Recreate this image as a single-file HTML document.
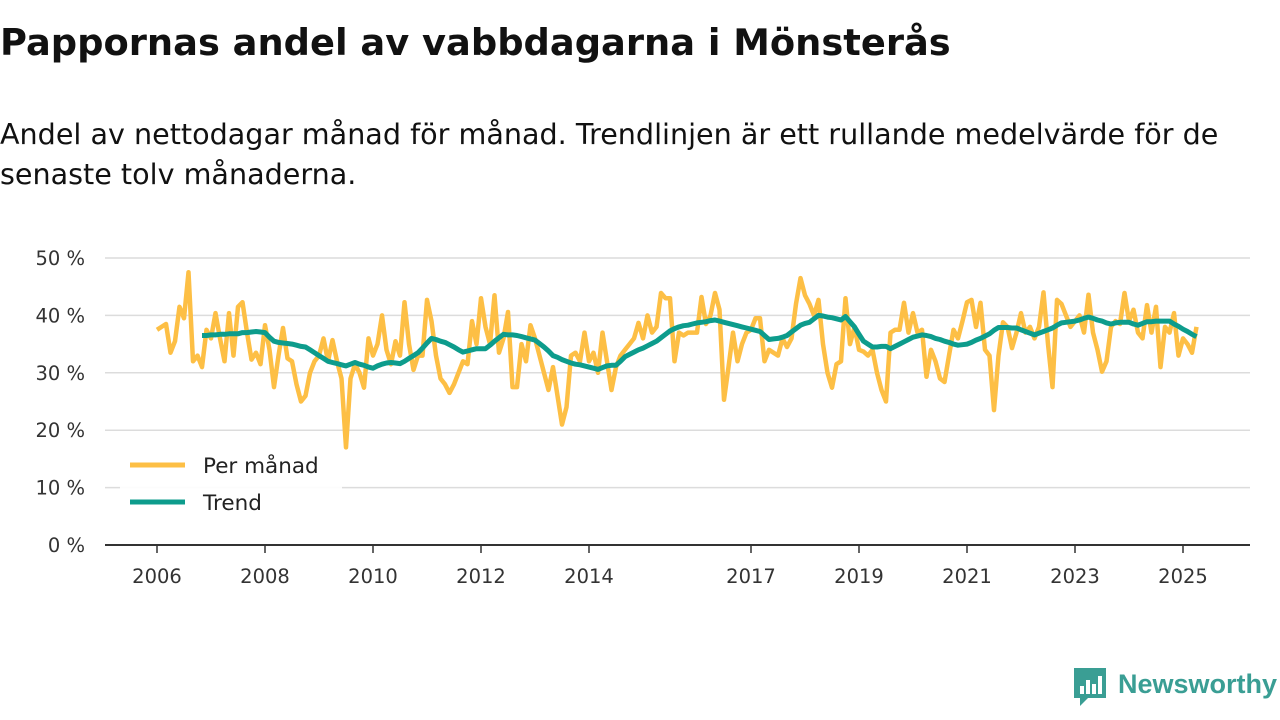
<!DOCTYPE html>
<html><head><meta charset="utf-8">
<style>
body{margin:0;width:1280px;height:720px;background:#fff;font-family:"DejaVu Sans","Liberation Sans",sans-serif;overflow:hidden;position:relative}
h1{position:absolute;left:0;top:21px;margin:0;font-size:36.8px;line-height:44px;font-weight:bold;color:#111;white-space:nowrap}
p{position:absolute;left:0;top:114px;margin:0;font-size:28.6px;line-height:40px;color:#111;white-space:nowrap}
svg{position:absolute;left:0;top:0}
</style></head><body>
<h1>Pappornas andel av vabbdagarna i Mönsterås</h1>
<p>Andel av nettodagar månad för månad. Trendlinjen är ett rullande medelvärde för de<br>senaste tolv månaderna.</p>
<svg id="c" width="1280" height="720"></svg>
<script>
const monthly=[37.5,38,38.5,33.5,35.5,41.5,39.5,47.5,32,33,31,37.5,
36,40.4,36,32,40.4,33,41.5,42.3,37,32.3,33.5,31.5,
38.3,34,27.5,33,37.8,32.5,32,28,25,26,30,32,
33,36,32,35.7,32,29,17,29,31.5,30,27.4,36,
33,35,40,34,31.5,35.5,33,42.3,35,30.5,33,33,
42.7,39,33,29,28,26.5,28,30,32,31.5,39,35,
43,38,35,43.5,33.5,36,40.6,27.5,27.5,35,32,38.3,
36,33,30,27,31,26,21,24,33,33.5,32,37,
32,33.5,30,37,32,27,31,33,34,35,36,38.7,
36,40,37,38,43.9,43,43,32,37,36.5,37,37,
37,43.2,38.5,40,43.9,41,25.3,31,37,32,35,37,
37.5,39.5,39.5,32,34,33.5,33,36,34.5,36,42,46.5,
43.5,42,40,42.7,35,30,27.4,31.5,32,43,35,38,
34,33.7,33,34,30,27,25,37,37.5,37.5,42.2,37,
40.4,37,37.5,29.3,34,32,29,28.4,33,37.5,36,39,
42.3,42.7,38,42.2,34,33,23.5,33,38.8,38,34.3,37,
40.4,37,38,36,38,44,35,27.5,42.7,42,40,38,
39,40,37,43.6,37,34,30.2,32,38,39,38.5,43.9,
39,41,37,36,41.8,37,41.5,31,38,37,40.4,33,
36,35,33.5,38];
const trendStart=10;
const trend=[36.5,36.5,36.6,36.6,36.7,36.7,36.8,36.8,36.8,37,37,37.1,37.2,37.1,37,36.2,35.5,35.3,35.2,35.1,35,34.8,34.6,34.5,34,33.5,33,32.5,32,31.8,31.6,31.4,31.2,31.5,31.8,31.5,31.3,31,30.8,31.2,31.5,31.7,31.8,31.7,31.6,32,32.5,33,33.5,34.3,35.2,36,35.8,35.5,35.3,34.9,34.5,34,33.6,33.8,34,34.2,34.2,34.2,34.8,35.5,36.1,36.7,36.6,36.6,36.5,36.3,36.1,35.9,35.7,35.1,34.5,33.8,33,32.7,32.3,32,31.7,31.5,31.4,31.2,31,30.8,30.6,30.9,31.2,31.3,31.3,32,32.8,33.2,33.6,34,34.3,34.7,35.1,35.5,36.1,36.7,37.3,37.7,38,38.2,38.3,38.5,38.7,38.8,38.9,39.1,39.2,39,38.8,38.6,38.4,38.2,38,37.8,37.6,37.4,37.2,36.5,35.8,35.9,36,36.2,36.5,37.1,37.7,38.3,38.6,38.8,39.4,40,39.9,39.7,39.6,39.4,39.2,39.8,38.9,38,36.7,35.5,35,34.5,34.5,34.6,34.6,34.2,34.6,35,35.4,35.8,36.2,36.4,36.6,36.5,36.3,36,35.8,35.5,35.3,35,34.8,34.9,35,35.3,35.7,36,36.4,36.8,37.4,37.9,37.9,37.9,37.8,37.8,37.5,37.2,36.9,36.6,36.9,37.2,37.5,37.8,38.3,38.7,38.8,38.9,39,39.2,39.5,39.7,39.5,39.2,39,38.7,38.5,38.7,38.8,38.8,38.8,38.5,38.3,38.6,38.9,38.9,39,39,39,39,38.5,38.1,37.6,37.2,36.7,36.3];
const yTicks=[0,10,20,30,40,50];
const yTickLabels=["0 %","10 %","20 %","30 %","40 %","50 %"];
const xYears=[2006,2008,2010,2012,2014,2017,2019,2021,2023,2025];

const svg=document.getElementById('c');
const NS='http://www.w3.org/2000/svg';
const FF='DejaVu Sans, Liberation Sans, sans-serif';
const X=m=>157+m*4.5;
const Xy=y=>X((y-2006)*12);
const Y=v=>545-v*5.74;
function mk(t,a,p){const e=document.createElementNS(NS,t);for(const k in a)e.setAttribute(k,a[k]);(p||svg).appendChild(e);return e;}

yTicks.forEach((t,i)=>{
  if(t>0){const g=mk('line',{x1:105,x2:1250,y1:Y(t),y2:Y(t),stroke:'#dcdcdc','stroke-width':1.5});
  
  }
  const l=mk('text',{x:85,y:Y(t)+7,'text-anchor':'end','font-size':19.5,fill:'#333','font-family':FF});
  l.textContent=yTickLabels[i];
  
  
});
const ax=mk('line',{x1:105,x2:1250,y1:545,y2:545,stroke:'#333','stroke-width':2});


xYears.forEach(y=>{
  const tk=mk('line',{x1:Xy(y),x2:Xy(y),y1:545,y2:553,stroke:'#333','stroke-width':1.5});
  
  
  const l=mk('text',{x:Xy(y),y:583,'text-anchor':'middle','font-size':19.5,fill:'#333','font-family':FF});
  l.textContent=y;
  
  
});
const mp=monthly.map((v,i)=>X(i).toFixed(1)+','+Y(v).toFixed(1)).join(' ');
const ml=mk('polyline',{points:mp,fill:'none',stroke:'#fdbf45','stroke-width':4.5,'stroke-linejoin':'round'});


const tp=trend.map((v,i)=>X(i+trendStart).toFixed(1)+','+Y(v).toFixed(1)).join(' ');
const tl=mk('polyline',{points:tp,fill:'none',stroke:'#0d9c8c','stroke-width':5,'stroke-linejoin':'round'});



const lb=mk('rect',{x:120,y:446,width:222,height:76,fill:'#fff','fill-opacity':0.9});


[['Per månad','#fdbf45',465],['Trend','#0d9c8c',502]].forEach(([n,c,y])=>{
  const s=mk('line',{x1:130,x2:185,y1:y,y2:y,stroke:c,'stroke-width':5});
  
  
  const t=mk('text',{x:203,y:y+8,'font-size':21.5,fill:'#222','font-family':FF});
  t.textContent=n;
  
  
});
const logo=mk('g',{});


mk('path',{d:'M1074,668 h32 v30 h-18 l-8,8 v-8 h-6 z',fill:'#3a9e94'},logo);
[[1080,686,4,8],[1086,680,4,14],[1092,684,4,10],[1098,676,4,18]].forEach(r=>mk('rect',{x:r[0],y:r[1],width:r[2],height:r[3],fill:'#fff'},logo));
const lt=mk('text',{x:1118,y:693,'font-size':27,'font-weight':'bold',fill:'#3a9e94','font-family':'Liberation Sans, sans-serif'},logo);
lt.textContent='Newsworthy';
</script>
</body></html>
